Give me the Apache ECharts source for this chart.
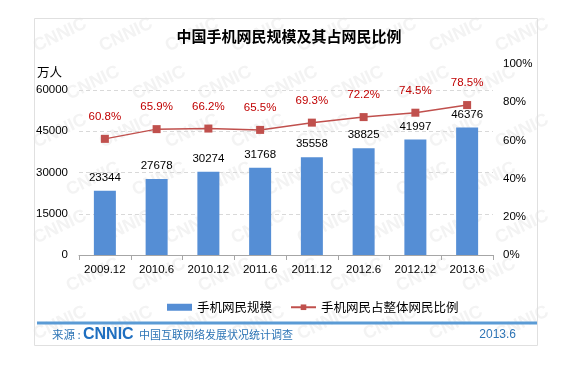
<!DOCTYPE html>
<html><head><meta charset="utf-8">
<script src="https://cdn.jsdelivr.net/npm/echarts@6/dist/echarts.min.js"></script>
<style>html,body{margin:0;padding:0;background:#fff}#c{width:578px;height:368px}</style>
</head><body><div id="c"></div>
<script>
const categories = ['2009.12','2010.6','2010.12','2011.6','2011.12','2012.6','2012.12','2013.6'];
const mobileUsers = [23344,27678,30274,31768,35558,38825,41997,46376];
const mobileShare = [60.8,65.9,66.2,65.5,69.3,72.2,74.5,78.5];
const seriesNames = ['手机网民规模','手机网民占整体网民比例'];
const titleText = '中国手机网民规模及其占网民比例';
const unitText = '万人';
const sourceLabel = '来源 :';
const sourceOrg = '中国互联网络发展状况统计调查';
const sourceDate = '2013.6';

const FONT = '"Liberation Sans", Arial, sans-serif';
const CJK = '"Noto Sans CJK SC", sans-serif';

const chart = echarts.init(document.getElementById('c'), null, {renderer:'canvas'});

// faint watermark inside the frame
const wm = [];
for (let r = 0; r < 7; r++) {
  for (let k = 0; k < 8; k++) {
    const x = 60 + k*66 + (r%2)*33, y = 35 + r*48;
    if (x > 525 || y > 340) continue;
    wm.push({
      type:'text', silent:true, z:-10,
      x: x, y: y, rotation: Math.PI/7,
      style:{text:'CNNIC', fill:'#F3F3F3', font:'bold 18px ' + FONT, align:'center', verticalAlign:'middle'}
    });
  }
}

chart.setOption({
  animation:false,
  backgroundColor:'#fff',
  title:{text:titleText, left:'center', top:24,
    textStyle:{fontFamily:CJK, fontSize:15, fontWeight:'bold', color:'#000'}},
  legend:{left:162, top:296, itemGap:18, itemWidth:25, itemHeight:7,
    textStyle:{fontFamily:CJK, fontSize:12.5, color:'#000'},
    data:[{name:seriesNames[0], icon:'rect'},{name:seriesNames[1]}]},
  grid:[
    {left:79, right:85, top:90, bottom:113},
    {left:79, right:85, top:64, bottom:113}
  ],
  xAxis:[
    {type:'category', gridIndex:0, data:categories,
     axisLine:{lineStyle:{color:'#A6A6A6'}},
     axisTick:{show:true, length:5, interval:0, lineStyle:{color:'#A6A6A6'}},
     axisLabel:{fontFamily:FONT, fontSize:11.5, color:'#000', margin:9, interval:0}},
    {type:'category', gridIndex:1, data:categories, show:false}
  ],
  yAxis:[
    {type:'value', gridIndex:0, min:0, max:60000, interval:15000,
     axisLine:{show:false}, axisTick:{show:false},
     axisLabel:{fontFamily:FONT, fontSize:11.5, color:'#000', margin:11, formatter:v=>String(v)},
     splitLine:{lineStyle:{color:'#D9D9D9', type:[4,3]}}},
    {type:'value', gridIndex:1, position:'right', min:0, max:100, interval:20,
     axisLine:{show:false}, axisTick:{show:false}, splitLine:{show:false},
     axisLabel:{fontFamily:FONT, fontSize:11.5, color:'#000', margin:10, formatter:'{value}%'}}
  ],
  series:[
    {name:seriesNames[0], type:'bar', xAxisIndex:0, yAxisIndex:0, data:mobileUsers, barWidth:22,
     itemStyle:{color:'#558ED5'},
     label:{show:true, position:'top', distance:7, fontFamily:FONT, fontSize:11.5, color:'#000'}},
    {name:seriesNames[1], type:'line', xAxisIndex:1, yAxisIndex:1, data:mobileShare,
     symbol:'rect', symbolSize:8, lineStyle:{color:'#C0504D', width:1.5},
     itemStyle:{color:'#C0504D'},
     label:{show:true, position:'top', distance:12, fontFamily:FONT, fontSize:11.5, color:'#C00000',
       formatter:p=>p.value.toFixed(1)+'%'}}
  ],
  graphic:[
    ...wm,
    {type:'rect', silent:true, shape:{x:34.5, y:18.5, width:503, height:327},
     style:{fill:'none', stroke:'#E0E0E0', lineWidth:1}, z:-5},
    {type:'line', silent:true, shape:{x1:37, y1:323, x2:537, y2:323},
     style:{stroke:'#5B9BD5', lineWidth:3}},
    {type:'text', left:37, top:66, style:{text:unitText, font:'12.5px ' + CJK, fill:'#000'}},
    {type:'text', x:52, y:335, style:{text:sourceLabel, font:'11.5px ' + CJK, fill:'#2E75B6', verticalAlign:'middle'}},
    {type:'text', x:83, y:335, style:{text:'CNNIC', font:'bold 16px ' + FONT, fill:'#1F6FC0', verticalAlign:'middle'}},
    {type:'text', x:139, y:335, style:{text:sourceOrg, font:'11px ' + CJK, fill:'#2E75B6', verticalAlign:'middle'}},
    {type:'text', x:516, y:335, style:{text:sourceDate, font:'12px ' + FONT, fill:'#2E75B6', align:'right', verticalAlign:'middle'}}
  ]
});
</script></body></html>
